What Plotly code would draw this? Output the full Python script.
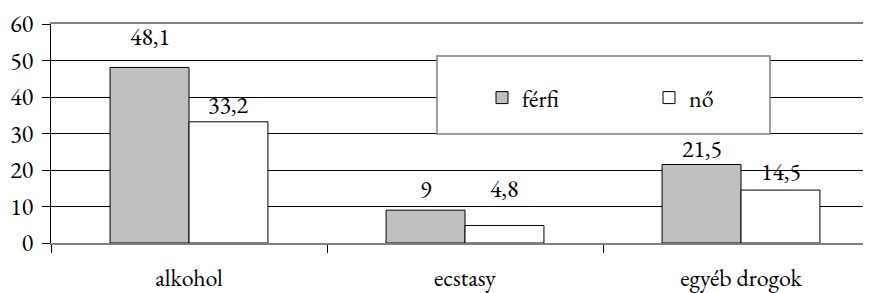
import plotly.graph_objects as go

categories = ["alkohol", "ecstasy", "egyéb drogok"]
ferfi = [48.1, 9, 21.5]
no = [33.2, 4.8, 14.5]
ferfi_labels = ["48,1", "9", "21,5"]
no_labels = ["33,2", "4,8", "14,5"]
y_ticks = [0, 10, 20, 30, 40, 50, 60]

FONT = "EB Garamond"
FS = 24

# page body adds an 8px offset; figure is sized to compensate
OFF = 8

fig = go.Figure()
fig.add_trace(go.Bar(x=categories, y=ferfi, name="férfi",
                     marker=dict(color="#C0C0C0", line=dict(color="black", width=1))))
fig.add_trace(go.Bar(x=categories, y=no, name="nő",
                     marker=dict(color="white", line=dict(color="black", width=1))))

# label offsets (pixels above bar top) as in the original
ferfi_shift = [30.5, 21, 16.5]
no_shift = [17.5, 36.5, 18.5]
for i, c in enumerate(categories):
    fig.add_annotation(x=c, y=ferfi[i], text=ferfi_labels[i], showarrow=False,
                       xshift=-39.5, yshift=ferfi_shift[i], yanchor="middle",
                       font=dict(family=FONT, size=FS, color="black"))
    fig.add_annotation(x=c, y=no[i], text=no_labels[i], showarrow=False,
                       xshift=39.5, yshift=no_shift[i], yanchor="middle",
                       font=dict(family=FONT, size=FS, color="black"))

# legend box
fig.add_shape(type="rect", xref="paper", yref="paper",
              x0=(437 - 51) / 820, x1=(770 - 51) / 820,
              y0=(243 - 134) / 219, y1=(243 - 56) / 219,
              fillcolor="white", line=dict(color="#808080", width=1.5), layer="above")

fig.update_layout(
    width=871 - OFF, height=293 - OFF,
    margin=dict(l=51 - OFF, r=0, t=24 - OFF, b=50, autoexpand=False),
    paper_bgcolor="white", plot_bgcolor="white",
    barmode="group", bargap=0.428, bargroupgap=0,
    font=dict(family=FONT, size=FS, color="black"),
    showlegend=True,
    legend=dict(orientation="h", x=(482 - 51) / 820, y=(243 - 98) / 219,
                xanchor="left", yanchor="middle", bgcolor="rgba(0,0,0,0)",
                entrywidth=122, entrywidthmode="pixels",
                font=dict(family=FONT, size=FS, color="black")),
    xaxis=dict(type="category", range=[-0.5, 2.471], showgrid=False,
               showline=True, linecolor="#808080", linewidth=2, mirror=True,
               ticks="outside", tickson="boundaries", ticklen=8, tickcolor="black",
               tickwidth=1, ticklabelstandoff=12, automargin=False),
    yaxis=dict(range=[0, 60], tickvals=y_ticks, showgrid=True, gridcolor="black",
               gridwidth=1, zeroline=False, showline=True, linecolor="black",
               linewidth=1, ticks="outside", ticklen=8, tickcolor="black",
               ticklabelstandoff=4, automargin=False),
)

fig.write_html("out.html")
